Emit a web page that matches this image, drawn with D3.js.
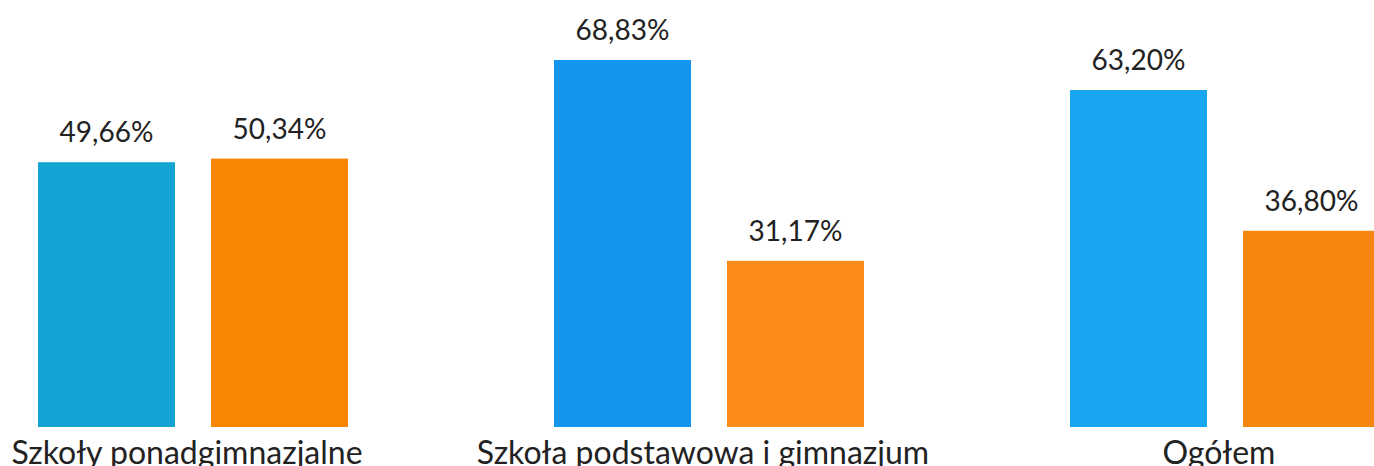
<!DOCTYPE html>
<html>
<head>
<meta charset="utf-8">
<script src="https://cdn.jsdelivr.net/npm/d3@7"></script>
<style>
  body { margin: 0; background: #fff; }
  svg { display: block; }
  text { font-family: Lato, "Open Sans", sans-serif; fill: #222; }
</style>
</head>
<body>
<svg id="chart" width="1374" height="466"></svg>
<script>
var groups = ["Szkoły ponadgimnazjalne", "Szkoła podstawowa i gimnazjum", "Ogółem"];
var series = ["a", "b"];
var valuesA = [49.66, 68.83, 63.20];
var valuesB = [50.34, 31.17, 36.80];
var valueLabelsA = ["49,66%", "68,83%", "63,20%"];
var valueLabelsB = ["50,34%", "31,17%", "36,80%"];

(function barChart() {
    var svg = d3.select("#chart");

    var blues = ["#13a4d3", "#1596ee", "#17a6ef"];
    var oranges = ["#f98505", "#fc8c1a", "#f5860f"];

    var data = groups.map(function (g, i) {
        return {
            group: g,
            idx: i,
            bars: [
                { key: "a", value: valuesA[i], label: valueLabelsA[i], color: blues[i] },
                { key: "b", value: valuesB[i], label: valueLabelsB[i], color: oranges[i] }
            ]
        };
    });

    var x0 = d3.scaleBand()
        .domain(groups)
        .range([38, 1380])
        .paddingInner(206 / 516)
        .paddingOuter(0);

    var x1 = d3.scaleBand()
        .domain(series)
        .range([0, x0.bandwidth()])
        .paddingInner(36 / 173)
        .paddingOuter(0);

    var y = d3.scaleLinear()
        .domain([0, 68.83])
        .range([427, 60]);

    var g = svg.selectAll(".group")
        .data(data)
        .enter().append("g")
        .attr("class", "group")
        .attr("transform", function (d) {
            return "translate(" + x0(d.group) + ",0)";
        });

    g.selectAll("rect")
        .data(function (d) { return d.bars; })
        .enter().append("rect")
        .attr("x", function (d) { return x1(d.key); })
        .attr("y", function (d) { return y(d.value); })
        .attr("width", x1.bandwidth())
        .attr("height", function (d) { return y(0) - y(d.value); })
        .attr("fill", function (d) { return d.color; });

    g.selectAll(".value")
        .data(function (d) { return d.bars; })
        .enter().append("text")
        .attr("class", "value")
        .attr("x", function (d) { return x1(d.key) + x1.bandwidth() / 2; })
        .attr("y", function (d) { return y(d.value) - 20; })
        .attr("text-anchor", "middle")
        .style("font-size", "28px")
        .text(function (d) { return d.label; });

    g.append("text")
        .attr("class", "category")
        .attr("x", x0.bandwidth() / 2 - 6)
        .attr("y", 464)
        .attr("text-anchor", "middle")
        .style("font-size", "32px")
        .text(function (d) { return d.group; });
}());
</script>
</body>
</html>
